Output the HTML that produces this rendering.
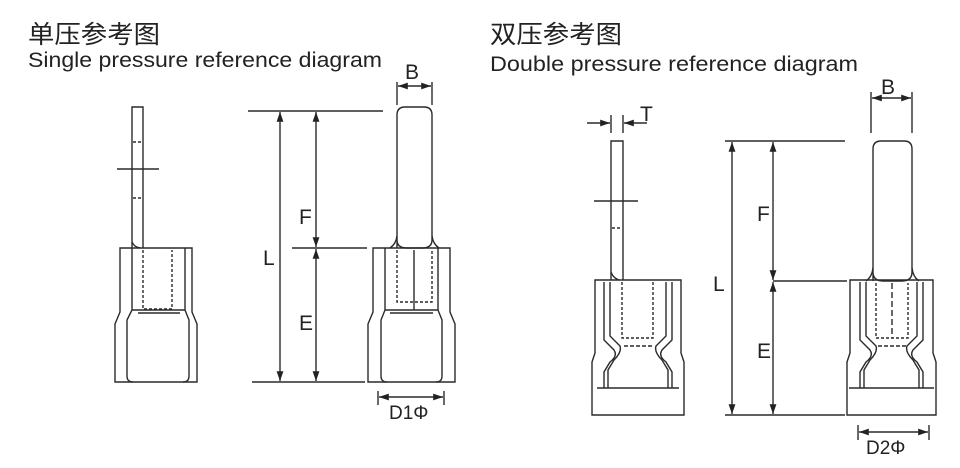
<!DOCTYPE html>
<html><head><meta charset="utf-8"><style>
body{margin:0;background:#fff;}
svg{display:block}
text{font-family:"Liberation Sans","Noto Sans CJK SC",sans-serif;fill:#222}
</style></head><body>
<svg width="960" height="468" viewBox="0 0 960 468" xmlns="http://www.w3.org/2000/svg">
<defs>
<marker id="a" viewBox="0 0 10 10" refX="10" refY="5" markerWidth="7" markerHeight="7" orient="auto-start-reverse"><path d="M0,1.5 L10,5 L0,8.5 Z" fill="#222"/></marker>
</defs>
<text x="28" y="43" font-size="25" textLength="132" lengthAdjust="spacingAndGlyphs">单压参考图</text>
<text x="28" y="67" font-size="21" textLength="354" lengthAdjust="spacingAndGlyphs">Single pressure reference diagram</text>
<text x="490" y="43" font-size="25" textLength="132" lengthAdjust="spacingAndGlyphs">双压参考图</text>
<text x="490" y="71" font-size="21" textLength="368" lengthAdjust="spacingAndGlyphs">Double pressure reference diagram</text>

<g fill="none" stroke="#2a2a2a" stroke-width="1.4">
<path d="M132,248 L132,107 L143,107 L143,248"/>
<path d="M132,242 Q134,247 140,248" />
<line x1="117" y1="169" x2="159" y2="169"/>
<path d="M133,142 h9 M133,198 h9" stroke-dasharray="3,2"/>
<path d="M120,248 H192 V312 L197,324 V382 H115 V324 L120,312 Z"/>
<path d="M132,248 V310 L127,320 V376 Q127,382 133,382 M185,248 V310 L189,320 V376 Q189,382 183,382"/>
<path d="M138,313 H180 M132,310 H185" />
<path d="M143,250 V309 H172 V250" stroke-dasharray="3,2"/>

<line x1="248" y1="111" x2="383" y2="111"/>
<line x1="292" y1="248" x2="367" y2="248"/>
<line x1="252" y1="382" x2="365" y2="382"/>
<line x1="280" y1="112" x2="280" y2="381" marker-start="url(#a)" marker-end="url(#a)"/>
<line x1="316" y1="112" x2="316" y2="247" marker-start="url(#a)" marker-end="url(#a)"/>
<line x1="316" y1="249" x2="316" y2="381" marker-start="url(#a)" marker-end="url(#a)"/>

<path d="M397,248 V115 Q397,107 405,107 H424 Q432,107 432,115 V240 Q432,248 422,248 H407 Q397,248 397,240"/>
<path d="M390,248 Q396,244 397,236 M439,248 Q433,244 432,236"/>
<path d="M373,248 H450 V312 L455,324 V382 H368 V324 L373,312 Z"/>
<path d="M385,248 V310 L381,320 V376 Q381,382 387,382 M438,248 V310 L442,320 V376 Q442,382 436,382"/>
<path d="M390,313 H433 M385,310 H438"/>
<path d="M397,250 V302 H432 V250" stroke-dasharray="3,2"/>
<line x1="414" y1="250" x2="414" y2="310"/>
<line x1="397" y1="82" x2="397" y2="105"/><line x1="432" y1="82" x2="432" y2="105"/>
<line x1="398" y1="86" x2="431" y2="86" marker-start="url(#a)" marker-end="url(#a)"/>
<line x1="378" y1="391" x2="378" y2="405"/><line x1="444" y1="391" x2="444" y2="405"/>
<line x1="379" y1="397" x2="443" y2="397" marker-start="url(#a)" marker-end="url(#a)"/>

<path d="M611,280 V141 H623 V280"/>
<path d="M611,272 Q613,278 619,280"/>
<line x1="594" y1="201" x2="638" y2="201"/>
<path d="M612,228 h10" stroke-dasharray="3,2"/>
<line x1="611" y1="115" x2="611" y2="133"/><line x1="623" y1="115" x2="623" y2="133"/>
<line x1="587" y1="123" x2="610" y2="123" marker-end="url(#a)"/>
<line x1="647" y1="123" x2="624" y2="123" marker-end="url(#a)"/>
<path d="M595,280 H681 V353 L684,362 V415 H592 V362 L595,353 Z"/>
<path d="M604,282 V340 L614,350 Q618,356 610,362 L604,372 V388 M672,282 V340 L662,350 Q658,356 666,362 L672,372 V388"/>
<path d="M610,282 V336 L620,346 Q622,352 614,360 L608,370 V388 M666,282 V336 L656,346 Q654,352 662,360 L668,370 V388"/>
<path d="M597,388 H679"/>
<path d="M622,282 V338 H653 V282" stroke-dasharray="3,2"/>
<path d="M624,346 H652" stroke-dasharray="4,2"/>

<line x1="725" y1="141" x2="845" y2="141"/>
<line x1="773" y1="281" x2="847" y2="281"/>
<line x1="725" y1="415" x2="845" y2="415"/>
<line x1="732" y1="142" x2="732" y2="414" marker-start="url(#a)" marker-end="url(#a)"/>
<line x1="773" y1="142" x2="773" y2="280" marker-start="url(#a)" marker-end="url(#a)"/>
<line x1="773" y1="282" x2="773" y2="414" marker-start="url(#a)" marker-end="url(#a)"/>

<path d="M873,281 V149 Q873,141 881,141 H904 Q912,141 912,149 V272 Q912,281 902,281 H883 Q873,281 873,272"/>
<path d="M866,281 Q872,277 873,268 M919,281 Q913,277 912,268"/>
<path d="M850,280 H933 V353 L936,362 V415 H847 V362 L850,353 Z"/>
<path d="M860,282 V340 L870,350 Q874,356 866,362 L860,372 V388 M923,282 V340 L913,350 Q909,356 917,362 L923,372 V388"/>
<path d="M866,282 V336 L876,346 Q878,352 870,360 L864,370 V388 M917,282 V336 L907,346 Q905,352 913,360 L919,370 V388"/>
<path d="M849,388 H934"/>
<path d="M876,283 V338 H908 V283" stroke-dasharray="3,2"/>
<line x1="892" y1="283" x2="892" y2="338" stroke-dasharray="6,3"/>
<path d="M878,346 H906" stroke-dasharray="4,2"/>
<line x1="871" y1="92" x2="871" y2="133"/><line x1="912" y1="92" x2="912" y2="133"/>
<line x1="872" y1="98" x2="911" y2="98" marker-start="url(#a)" marker-end="url(#a)"/>
<line x1="858" y1="425" x2="858" y2="440"/><line x1="929" y1="425" x2="929" y2="440"/>
<line x1="859" y1="432" x2="928" y2="432" marker-start="url(#a)" marker-end="url(#a)"/>
</g>

<g font-size="21">
<text x="263" y="265">L</text>
<text x="299" y="224">F</text>
<text x="299" y="330">E</text>
<text x="405" y="79">B</text>
<text x="389" y="419" font-size="19">D1Φ</text>
<text x="640" y="121">T</text>
<text x="713" y="291">L</text>
<text x="757" y="221">F</text>
<text x="757" y="358">E</text>
<text x="881" y="94">B</text>
<text x="866" y="454" font-size="19">D2Φ</text>
</g>
</svg>
</body></html>
